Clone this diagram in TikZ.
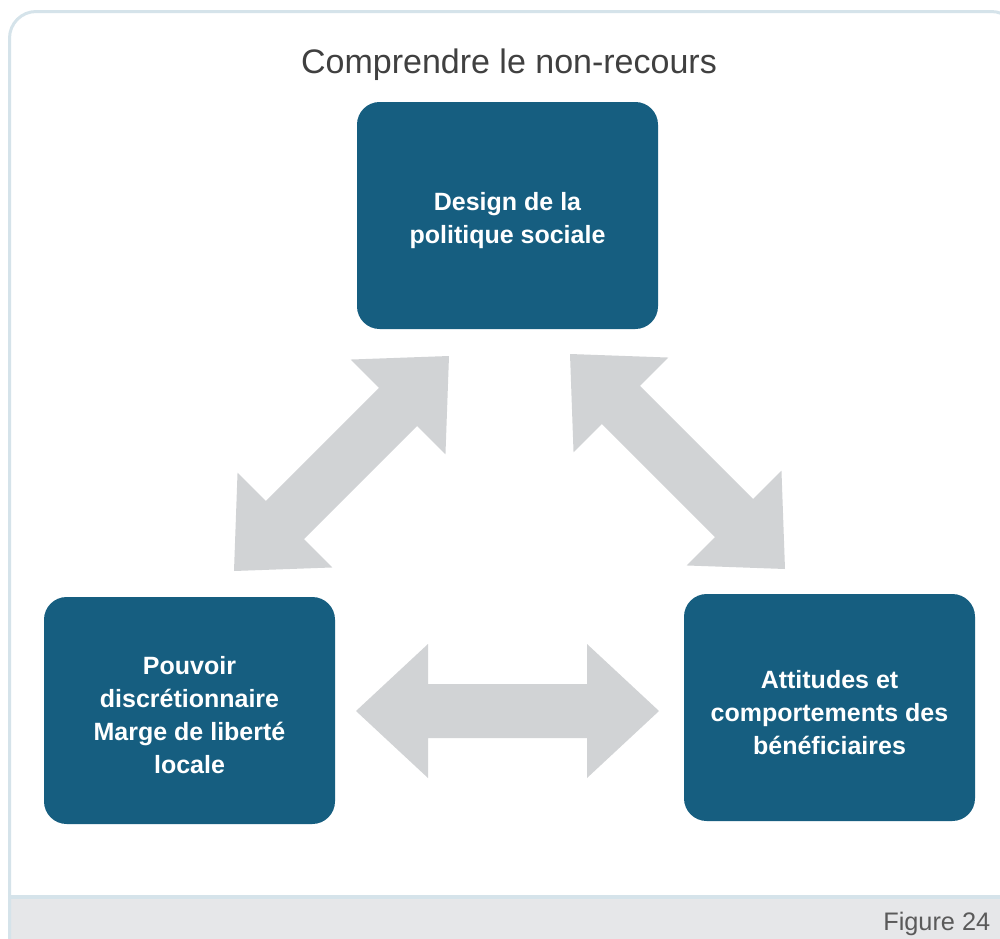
\documentclass[tikz,border=0pt]{standalone}
\usepackage{fontspec}
\setmainfont{Liberation Sans}
\usetikzlibrary{positioning}
\usetikzlibrary{calc}
\definecolor{boxblue}{HTML}{165E80}
\definecolor{arrowgray}{HTML}{D1D3D5}
\definecolor{framecol}{HTML}{D5E3EA}
\definecolor{footercol}{HTML}{E6E7E9}
\definecolor{titlecol}{HTML}{404040}
\definecolor{figcol}{HTML}{5A5A5A}
\newcommand{\headlen}{54pt}
\newcommand{\headhalf}{50.25pt}
\newcommand{\shafthalf}{20.25pt}
\newcommand{\blockarrow}[2]{%
    \fill[arrow fill] (#1)
    -- ($(#1)!\headlen!(#2)!\headhalf!90:(#2)$)
    -- ($(#1)!\headlen!(#2)!\shafthalf!90:(#2)$)
    -- ($(#2)!\headlen!(#1)!\shafthalf!-90:(#1)$)
    -- ($(#2)!\headlen!(#1)!\headhalf!-90:(#1)$)
    -- (#2)
    -- ($(#2)!\headlen!(#1)!\headhalf!90:(#1)$)
    -- ($(#2)!\headlen!(#1)!\shafthalf!90:(#1)$)
    -- ($(#1)!\headlen!(#2)!\shafthalf!-90:(#2)$)
    -- ($(#1)!\headlen!(#2)!\headhalf!-90:(#2)$)
    -- cycle;}

\begin{document}
\begin{tikzpicture}
    [
    x=0.75pt, y=-0.75pt,
    box/.style={fill=boxblue, rounded corners=17pt,
        minimum width=218.25pt, minimum height=170.25pt},
    box text/.style={text=white, align=center, yshift=-3.5pt,
        font=\bfseries\fontsize{18.75}{24.75}\selectfont},
    arrow fill/.style={fill=arrowgray},
    ]
    \useasboundingbox (0,0) rectangle (1000,939);
    \clip (0,0) rectangle (1000,939);

    % frame and footer
    \fill[white, rounded corners=20pt] (9.5,11.5) rectangle (1018,965);
    \fill[footercol] (9.5,897) rectangle (1000,939);
    \draw[framecol, line width=3pt] (9.5,897) -- (1000,897);
    \draw[framecol, line width=2.25pt, rounded corners=20pt] (9.5,11.5) rectangle (1018,965);

    \node[anchor=base, text=titlecol, font=\fontsize{25.5}{30}\selectfont] (title)
    at (509,73) {Comprendre le non-recours};
    \node[anchor=base east, text=figcol, font=\fontsize{19}{23}\selectfont] (fig_label)
    at (995,930) {Figure 24};

    \node[box, minimum width=225.75pt,
    label={[box text]center:{Design de la\\politique sociale}}] (box_design)
    at (507.5,215.5) {};
    \node[box,
    label={[box text]center:{Pouvoir\\discrétionnaire\\Marge de liberté\\locale}}] (box_pouvoir)
    at (189.5,710.5) {};
    \node[box,
    label={[box text]center:{Attitudes et\\comportements des\\bénéficiaires}}] (box_attitudes)
    at (829.5,707.5) {};

    % arrow tips
    \coordinate (tip_left_a) at (234,571);
    \coordinate (tip_left_b) at (449,356);
    \coordinate (tip_right_a) at (570,354);
    \coordinate (tip_right_b) at (785,569);
    \coordinate (tip_low_a) at (356,711);
    \coordinate (tip_low_b) at (659,711);

    \blockarrow{tip_left_a}{tip_left_b}
    \blockarrow{tip_right_a}{tip_right_b}
    \blockarrow{tip_low_a}{tip_low_b}
\end{tikzpicture}
\end{document}
